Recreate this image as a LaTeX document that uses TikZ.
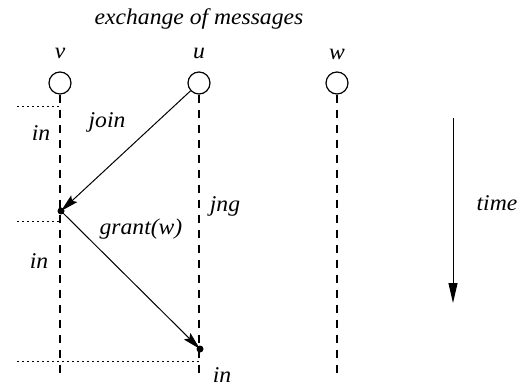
\documentclass[tikz,border=0pt]{standalone}
\usepackage{fontspec}
\setmainfont[FakeStretch=1.05]{Liberation Serif}
\usetikzlibrary{arrows.meta}
\begin{document}
\begin{tikzpicture}[x=1pt,y=-1pt,
  lbl/.style={font=\fontsize{22.5}{24}\selectfont\itshape, inner sep=0pt},
  proc/.style={circle, draw, line width=1.2pt, minimum size=22pt, inner sep=0pt},
  lifeline/.style={line width=1.1pt, dash pattern=on 8pt off 7pt},
  interval/.style={line width=1pt, dash pattern=on 1.5pt off 3.5pt},
  msg/.style={line width=1pt, -{Stealth[length=18pt,width=9pt,inset=3pt]}},
  evt/.style={circle, fill, minimum size=7pt, inner sep=0pt}]
\useasboundingbox (0,0) rectangle (519,387);

% title
\node[lbl] (title) at (199,19) {exchange of messages};

% processes
\node[lbl] (lv) at (60,53) {v};
\node[lbl] (lu) at (199,53) {u};
\node[lbl] (lw) at (337,54) {w};
\node[proc] (v) at (60,83) {};
\node[proc] (u) at (199,83) {};
\node[proc] (w) at (337,83) {};

% lifelines
\coordinate (ve) at (60,378);
\coordinate (ue) at (199,378);
\coordinate (we) at (337,378);
\draw[lifeline] (v.south) -- (ve);
\draw[lifeline] (u.south) -- (ue);
\draw[lifeline] (w.south) -- (we);

% events
\node[evt] (e1) at (61,211) {};
\node[evt] (e2) at (200,349) {};

% interval marks
\coordinate (m1a) at (17,107); \coordinate (m1b) at (60,107);
\coordinate (m2a) at (17,222); \coordinate (m2b) at (60,222);
\coordinate (m3a) at (17,361); \coordinate (m3b) at (199,361);
\draw[interval] (m1a) -- (m1b);
\draw[interval] (m2a) -- (m2b);
\draw[interval] (m3a) -- (m3b);

% messages
\draw[msg] (u) -- (e1.center);
\draw[msg] (e1.center) -- (e2.center);

% state labels
\node[lbl] (in1) at (41,133) {in};
\node[lbl] (in2) at (39,261) {in};
\node[lbl] (in3) at (222,375) {in};
\node[lbl] (join) at (107,122) {join};
\node[lbl] (jng) at (225,206) {jng};
\node[lbl] (grant) at (141,229) {grant(w)};

% time axis
\coordinate (t1) at (453,118);
\coordinate (t2) at (453,303);
\draw[line width=1pt, -{Triangle[length=20pt,width=9pt]}] (t1) -- (t2);
\node[lbl] (time) at (497,203) {time};
\end{tikzpicture}
\end{document}
